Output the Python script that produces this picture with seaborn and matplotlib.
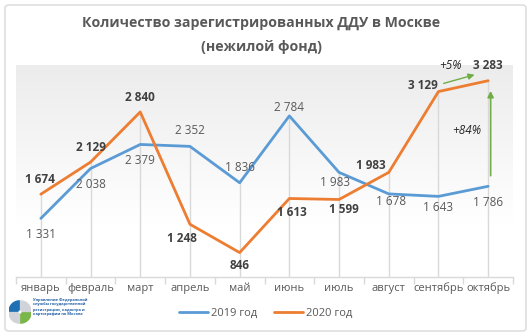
import numpy as np
import matplotlib
matplotlib.use("Agg")
import matplotlib.pyplot as plt
import seaborn as sns
import pandas as pd
from matplotlib.patches import FancyBboxPatch, Wedge

sns.set_theme(style="white")
plt.rcParams['font.family'] = ['Open Sans', 'DejaVu Sans']

months = ['январь', 'февраль', 'март', 'апрель', 'май', 'июнь', 'июль',
          'август', 'сентябрь', 'октябрь']
y2019 = [1331, 2038, 2379, 2352, 1836, 2784, 1983, 1678, 1643, 1786]
y2020 = [1674, 2129, 2840, 1248, 846, 1613, 1599, 1983, 3129, 3283]
series_names = ['2019 год', '2020 год']

# label offsets in pixels (dx, dy) for each point
off2019 = [(0, -16), (0, -16), (0, -16), (0, 16), (0, 15), (0, 8), (-4, -10),
           (2, -8), (0, -11), (0, -16)]
off2020 = [(-1, 15), (0, 15), (0, 14), (-8, -14), (0, -13), (3, -14), (5, -10),
           (-18, 7), (-16, 6), (0, 15)]

BLUE = '#5B9BD5'
ORANGE = '#ED7D31'
GRAY = '#595959'
GREEN = '#70AD47'

df = pd.DataFrame({'month': months * 2,
                   'x': list(range(len(months))) * 2,
                   'value': y2019 + y2020,
                   'series': [series_names[0]] * len(months) + [series_names[1]] * len(months)})

fig = plt.figure(figsize=(5.30, 3.36), dpi=100)
fig.patch.set_facecolor('white')

# outer frame
frame = FancyBboxPatch((5 / 530, 5 / 336), 521 / 530, 326 / 336,
                       boxstyle="round,pad=0,rounding_size=0.008",
                       transform=fig.transFigure, fill=False,
                       edgecolor='#d9d9d9', linewidth=1.0, zorder=0)
fig.patches.append(frame)

ax = fig.add_axes([16 / 530, 1 - 277 / 336, 497 / 530, (277 - 65.4) / 336])
ymin, ymax = 500, 3500
ax.set_xlim(-0.5, len(months) - 0.5)
ax.set_ylim(ymin, ymax)

# plot-area gradient: white on top fading to light gray below
grad = np.linspace(0, 1, 256).reshape(-1, 1)
grad = np.clip((grad - 0.25) / 0.75, 0, 1)
cmap = matplotlib.colors.LinearSegmentedColormap.from_list('g', ['#ffffff', '#ececec'])
ax.imshow(grad, extent=[-0.5, len(months) - 0.5, ymax, ymin], aspect='auto',
          cmap=cmap, vmin=0, vmax=1, zorder=0, origin='upper')

# drop lines from the higher series to the axis
for i in range(len(months)):
    ax.plot([i, i], [ymin, max(y2019[i], y2020[i])], color='#d9d9d9', lw=1.0, zorder=1)

sns.lineplot(data=df, x='x', y='value', hue='series', palette=[BLUE, ORANGE],
             linewidth=2.0, ax=ax, legend=False, zorder=3)

for i in range(len(months)):
    ax.annotate(f"{y2019[i]:,}".replace(',', ' '), (i, y2019[i]),
                xytext=off2019[i], textcoords='offset pixels',
                ha='center', va='center', fontsize=8.5, color=GRAY, zorder=5)
    ax.annotate(f"{y2020[i]:,}".replace(',', ' '), (i, y2020[i]),
                xytext=off2020[i], textcoords='offset pixels',
                ha='center', va='center', fontsize=8.5, color='#404040',
                fontweight='bold', zorder=5)

# growth arrows
n = len(months) - 1
pct_m = round((y2020[n] / y2020[n - 1] - 1) * 100)
pct_y = round((y2020[n] / y2019[n] - 1) * 100)
ax.annotate('', xy=(n - 0.22, y2020[n] + 95), xytext=(n - 0.95, y2020[n - 1] + 105),
            arrowprops=dict(arrowstyle='-|>', color=GREEN, lw=1.0, mutation_scale=9),
            zorder=6)
ax.text(n - 0.75, y2020[n] + 210, f"+{pct_m}%", ha='center', va='center',
        fontsize=8.5, style='italic', color='#262626')
ax.annotate('', xy=(n + 0.05, y2020[n] - 105), xytext=(n + 0.05, y2019[n] + 110),
            arrowprops=dict(arrowstyle='-|>', color=GREEN, lw=1.2, mutation_scale=9),
            zorder=6)
ax.text(n - 0.43, (y2020[n] + y2019[n]) / 2 + 40, f"+{pct_y}%", ha='center',
        va='center', fontsize=8.5, style='italic', color='#262626')

for s in ['top', 'right', 'left']:
    ax.spines[s].set_visible(False)
ax.spines['bottom'].set_color('#d9d9d9')
ax.spines['bottom'].set_linewidth(1.0)
ax.set_yticks([])
ax.set_xticks(range(len(months)))
ax.set_xticklabels(months, fontsize=8, color=GRAY)
ax.set_xticks(np.arange(-0.5, len(months), 1), minor=True)
ax.tick_params(axis='x', which='major', length=0, pad=4)
ax.tick_params(axis='x', which='minor', length=5, color='#d9d9d9', width=1, bottom=True)
ax.set_xlabel('')
ax.set_ylabel('')

fig.text(0.493, 1 - 23 / 336, 'Количество зарегистрированных ДДУ в Москве',
         ha='center', va='center', fontsize=10.2, fontweight='bold', color=GRAY)
fig.text(0.493, 1 - 47 / 336, '(нежилой фонд)',
         ha='center', va='center', fontsize=10.2, fontweight='bold', color=GRAY)

# legend
handles = [matplotlib.lines.Line2D([], [], color=BLUE, lw=2),
           matplotlib.lines.Line2D([], [], color=ORANGE, lw=2)]
fig.legend(handles, series_names, loc='center', bbox_to_anchor=(266 / 530, 1 - 313 / 336),
           ncol=2, frameon=False, fontsize=8, handlelength=2.6, columnspacing=1.5,
           handletextpad=0.3, labelcolor=GRAY)

# emblem with caption
lax = fig.add_axes([9 / 530, 1 - 327 / 336, 22 / 530, 30 / 336])
lax.set_xlim(-1, 1)
lax.set_ylim(-1.35, 1.35)
lax.axis('off')
lax.add_patch(Wedge((-0.05, 0.05), 0.95, 90, 180, width=0.8, color='#1F6FB5'))
lax.add_patch(Wedge((0.05, -0.05), 0.95, 270, 360, width=0.8, color='#7AB648'))
lax.add_patch(Wedge((-0.05, -0.05), 0.95, 180, 270, width=0.8, color='#d0d4d8'))
lax.add_patch(Wedge((0.05, 0.05), 0.95, 0, 90, width=0.8, color='#d0d4d8'))
caption = ['Управление Федеральной', 'службы государственной',
           'регистрации, кадастра и', 'картографии по Москве']
for k, line in enumerate(caption):
    fig.text(33 / 530, 1 - (299.5 + k * 5) / 336, line, ha='left', va='center',
             fontsize=2.9, color='#1F5FA8', fontweight='bold')

fig.savefig('out.png', dpi=100)
